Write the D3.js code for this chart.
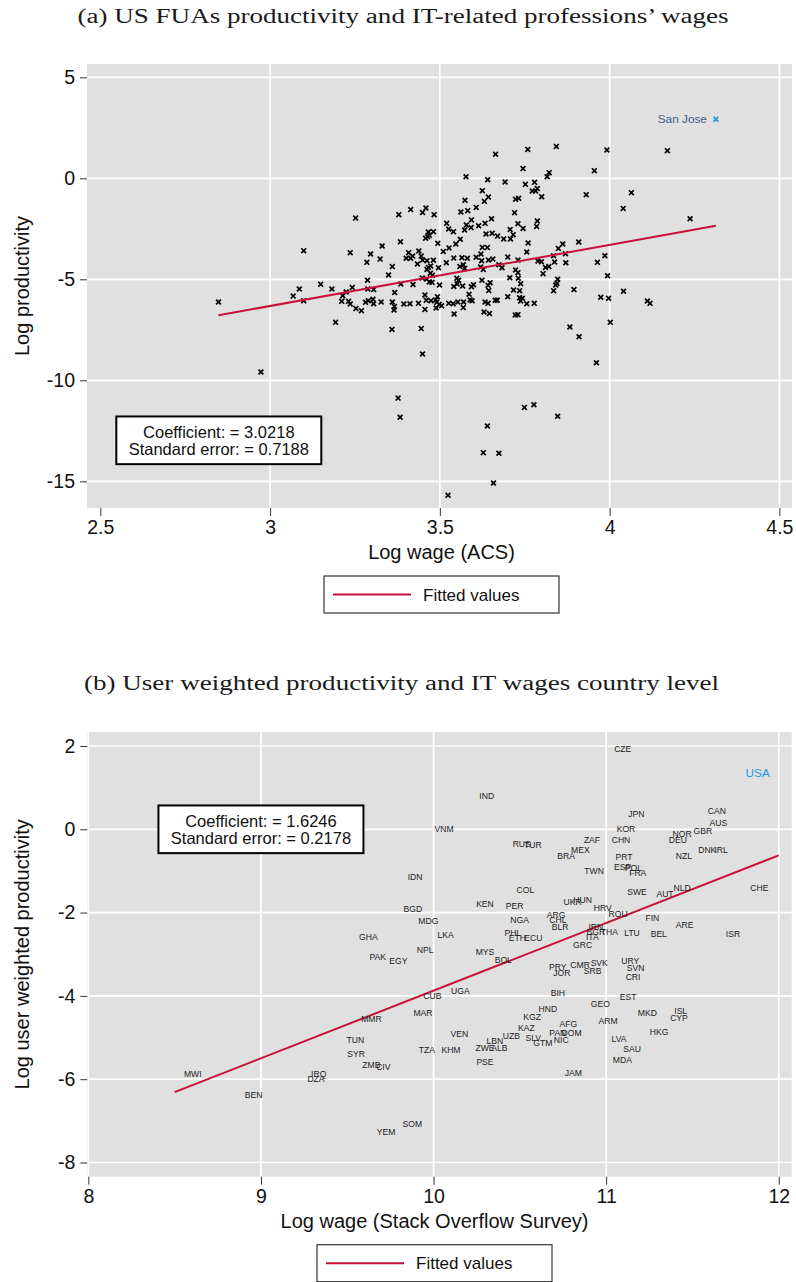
<!DOCTYPE html>
<html>
<head>
<meta charset="utf-8">
<script src="https://cdn.jsdelivr.net/npm/d3@7"></script>
<style>
  body { margin: 0; background: #fff; }
  svg { display: block; font-family: "Liberation Sans", Arial, sans-serif; }
</style>
</head>
<body>
<svg id="chart" width="796" height="1282"></svg>
<script>
// ---------- Panel (a): US functional urban areas ----------
const fuaWage = [
  3.099,3.252,3.379,3.414,3.449,3.459,3.483,3.664,3.759,3.843,
  3.577,3.641,3.692,3.745,3.752,3.779,3.772,3.787,3.782,3.816,
  3.822,3.800,3.625,3.643,3.631,3.574,3.607,3.582,3.562,3.723,
  3.732,3.720,3.520,3.526,3.540,3.578,3.593,3.592,3.573,3.614,
  3.633,3.652,3.730,3.745,3.707,3.716,3.787,3.785,3.636,3.654,
  3.670,3.688,3.708,3.560,3.547,3.527,3.510,3.494,3.466,3.481,
  3.458,3.469,3.464,3.384,3.330,3.236,3.296,3.324,3.285,3.360,
  3.349,3.408,3.401,3.414,3.420,3.438,3.445,3.434,3.449,3.462,
  3.481,3.466,3.462,3.473,3.472,3.496,3.519,3.541,3.565,3.581,
  3.559,3.569,3.573,3.607,3.621,3.625,3.640,3.623,3.620,3.628,
  3.643,3.656,3.674,3.683,3.700,3.730,3.723,3.730,3.756,3.760,
  3.789,3.799,3.804,3.811,3.821,3.835,3.838,3.849,3.862,3.870,
  3.871,3.909,3.448,3.461,3.469,3.478,3.477,3.499,3.421,3.385,
  3.287,3.288,3.305,3.149,3.182,3.086,3.068,3.099,3.214,3.224,
  3.242,3.211,3.231,3.236,3.253,3.269,3.281,3.289,3.303,3.305,
  3.327,3.367,3.360,3.366,3.365,3.394,3.412,3.437,3.456,3.460,
  3.456,3.474,3.488,3.493,3.491,3.498,3.489,3.505,3.526,3.539,
  3.553,3.542,3.569,3.570,3.586,3.589,3.595,3.541,3.551,3.555,
  3.550,3.567,3.593,3.599,3.624,3.642,3.648,3.644,3.633,3.642,
  3.663,3.669,3.630,3.646,3.700,3.717,3.735,3.738,3.731,3.706,
  3.735,3.743,3.738,3.756,3.778,3.722,3.730,3.847,3.845,3.841,
  3.835,3.895,3.193,3.359,3.445,3.883,3.910,
  2.848,2.973,3.377,3.383,3.449,3.994,4.041,3.997,3.974,4.002,
  3.961,4.111,4.119,3.749,3.777,3.847,3.640,3.628,3.674,3.658,
  3.524,4.170,3.992,3.955,3.931,4.064,4.040,4.237,3.986,3.964
];
const fuaProd = [
  -3.58,-1.97,-1.80,-1.55,-1.69,-1.47,-1.80,1.19,1.43,1.58,
  0.08,-0.07,-0.18,0.48,-0.30,-0.20,-0.63,-0.51,-0.63,0.08,
  0.28,-0.91,-0.61,-0.93,-1.14,-1.09,-1.44,-1.60,-1.67,-1.04,
  -0.99,-1.70,-2.23,-2.51,-2.64,-2.31,-2.06,-2.44,-2.56,-2.35,
  -2.23,-2.00,-2.25,-2.48,-2.54,-2.79,-2.11,-2.38,-2.76,-2.72,
  -2.86,-3.00,-3.00,-3.02,-3.25,-3.45,-3.62,-3.22,-2.66,-2.64,
  -2.97,-2.82,-2.89,-3.14,-3.35,-3.68,-3.75,-4.00,-4.16,-4.37,
  -4.79,-3.68,-3.96,-3.96,-3.85,-3.60,-3.85,-4.24,-4.05,-4.08,
  -4.06,-4.41,-4.51,-4.34,-4.70,-4.43,-4.18,-3.95,-3.93,-3.96,
  -4.37,-4.28,-4.46,-3.91,-3.75,-3.42,-3.43,-4.08,-4.39,-4.51,
  -4.05,-4.00,-4.28,-4.43,-3.90,-4.05,-4.54,-4.67,-3.65,-3.20,
  -4.09,-4.13,-4.72,-4.41,-4.37,-3.83,-4.14,-3.47,-3.25,-3.73,
  -4.18,-3.15,-4.94,-4.99,-5.13,-4.80,-5.15,-5.28,-5.26,-5.23,
  -5.05,-5.48,-5.51,-5.25,-5.48,-5.48,-5.83,-6.06,-5.81,-5.63,
  -5.40,-6.09,-6.09,-6.22,-6.45,-6.55,-6.14,-6.06,-5.99,-6.21,
  -6.12,-5.65,-6.12,-6.34,-6.52,-6.22,-6.21,-6.19,-5.78,-6.04,
  -6.49,-6.06,-6.02,-5.86,-6.14,-6.24,-6.42,-6.31,-6.19,-6.21,
  -6.12,-6.72,-6.40,-6.12,-5.74,-6.02,-6.06,-5.35,-5.23,-5.05,
  -4.95,-5.33,-5.37,-5.27,-5.05,-5.30,-5.17,-5.55,-6.12,-6.19,
  -6.04,-6.04,-6.62,-6.69,-5.86,-5.53,-5.56,-5.22,-4.95,-4.92,
  -5.91,-5.94,-6.07,-6.21,-6.19,-6.77,-6.75,-5.00,-5.20,-5.28,
  -5.56,-5.51,-7.13,-7.48,-7.44,-7.36,-7.84,
  -6.12,-9.59,-10.88,-11.83,-8.70,-4.82,-5.59,-5.94,-5.89,-7.13,
  -9.13,-6.07,-6.19,-11.34,-11.21,-11.78,-12.26,-13.58,-13.61,-15.08,
  -15.69,1.37,1.40,0.38,-0.81,-0.71,-1.49,-2.00,-3.83,-4.16
];
const highlightFua = "San Jose";
const highlightFuaWage = 4.313;
const highlightFuaProd = 2.92;
const fitA_slope = 3.0218;
const fitA_se = 0.7188;
const fitA_intercept = -15.385;
const ticksA_x = [2.5, 3, 3.5, 4, 4.5];
const ticksA_y = [5, 0, -5, -10, -15];

// ---------- Panel (b): countries ----------
const countryCodes = [
  "CZE","IND","JPN","CAN","AUS","VNM","KOR","NOR","GBR","DEU",
  "RUS","TUR","ZAF","CHN","MEX","BRA","DNK","IRL","NZL","PRT",
  "ESP","POL","FRA","TWN","COL","SWE","AUT","NLD","CHE","KEN",
  "PER","UKR","HUN","HRV","ROU","FIN","ARE","ISR","NGA","ARG",
  "CHL","BLR","IRN","BGR","THA","ITA","LTU","BEL","GRC","LKA",
  "PHL","ETH","ECU","MYS","BOL","NPL","IDN","BGD","MDG","GHA",
  "PAK","EGY","PRY","JOR","CMR","SVK","SRB","URY","SVN","CRI",
  "CUB","UGA","BIH","EST","GEO","HND","KGZ","MKD","ISL","CYP",
  "ARM","AFG","KAZ","PAN","DOM","NIC","HKG","VEN","UZB","SLV",
  "GTM","LBN","ZWE","ALB","LVA","SAU","MDA","TZA","KHM","PSE",
  "JAM","MAR","MMR","TUN","SYR","ZMB","CIV","IRQ","DZA","MWI",
  "BEN","YEM","SOM"
];
const countryWage = [
  11.096,10.308,11.175,11.641,11.650,10.061,11.115,11.440,11.560,11.415,
  10.511,10.575,10.918,11.086,10.851,10.768,11.586,11.666,11.450,11.104,
  11.096,11.158,11.183,10.930,10.532,11.179,11.341,11.440,11.888,10.298,
  10.470,10.806,10.864,10.980,11.069,11.268,11.455,11.735,10.499,10.710,
  10.720,10.733,10.940,10.940,11.019,10.920,11.150,11.305,10.864,10.070,
  10.459,10.486,10.578,10.298,10.404,9.951,9.893,9.880,9.970,9.622,
  9.677,9.796,10.720,10.743,10.849,10.960,10.922,11.140,11.171,11.156,
  9.993,10.155,10.720,11.127,10.966,10.662,10.571,11.239,11.432,11.422,
  11.011,10.781,10.538,10.720,10.800,10.740,11.307,10.149,10.451,10.578,
  10.633,10.355,10.298,10.381,11.075,11.150,11.094,9.961,10.101,10.298,
  10.810,9.939,9.640,9.547,9.551,9.640,9.709,9.335,9.319,8.605,
  8.958,9.725,9.877
];
const countryProd = [
  1.928,0.807,0.375,0.447,0.159,0.007,0.015,-0.105,-0.033,-0.250,
  -0.345,-0.370,-0.257,-0.257,-0.497,-0.634,-0.497,-0.497,-0.634,-0.657,
  -0.897,-0.920,-1.040,-0.993,-1.450,-1.498,-1.553,-1.400,-1.400,-1.794,
  -1.834,-1.738,-1.690,-1.882,-2.034,-2.120,-2.290,-2.510,-2.170,-2.050,
  -2.180,-2.340,-2.346,-2.466,-2.466,-2.593,-2.483,-2.507,-2.778,-2.538,
  -2.483,-2.603,-2.603,-2.940,-3.140,-2.898,-1.145,-1.920,-2.190,-2.578,
  -3.059,-3.162,-3.313,-3.443,-3.258,-3.200,-3.395,-3.170,-3.330,-3.539,
  -3.995,-3.875,-3.940,-4.020,-4.187,-4.307,-4.500,-4.403,-4.355,-4.523,
  -4.595,-4.667,-4.763,-4.898,-4.883,-5.059,-4.860,-4.915,-4.963,-5.003,
  -5.123,-5.083,-5.244,-5.244,-5.027,-5.267,-5.532,-5.306,-5.306,-5.580,
  -5.844,-4.418,-4.547,-5.066,-5.387,-5.651,-5.715,-5.883,-5.988,-5.875,
  -6.380,-7.260,-7.069
];
const highlightCountry = "USA";
const highlightCountryWage = 11.878;
const highlightCountryProd = 1.36;
const fitB_slope = 1.6246;
const fitB_se = 0.2178;
const fitB_intercept = -20.12;
const fitB_range = [8.5, 12];
const ticksB_x = [8, 9, 10, 11, 12];
const ticksB_y = [2, 0, -2, -4, -6, -8];

// ---------- Drawing ----------
const svg = d3.select("#chart");
const FIT_COLOR = "#c8103a";
const HILITE = "#1f9ad6";
const plainNumber = d => String(d);   // keeps the ASCII hyphen for negatives

function makeScales(p) {
  return {
    x: d3.scaleLinear().domain(p.xDom).range([p.left, p.right]),
    y: d3.scaleLinear().domain(p.yDom).range([p.bottom, p.top])
  };
}

function drawFrame(p, s, xt, yt, xGrid, xTitle, yTitle, legendCx) {
  const g = svg.append("g");
  g.append("rect")
    .attr("x", p.left).attr("y", p.top)
    .attr("width", p.right - p.left).attr("height", p.bottom - p.top)
    .attr("fill", "#e0e0e0");

  g.selectAll(".hg").data(yt).join("line")
    .attr("x1", p.left).attr("x2", p.right)
    .attr("y1", d => s.y(d)).attr("y2", d => s.y(d))
    .attr("stroke", "#fff").attr("stroke-width", 1.7);
  g.selectAll(".vg").data(xGrid).join("line")
    .attr("y1", p.top).attr("y2", p.bottom)
    .attr("x1", d => s.x(d)).attr("x2", d => s.x(d))
    .attr("stroke", "#fff").attr("stroke-width", 1.7);

  const xa = g.append("g").attr("transform", `translate(0,${p.bottom})`)
    .call(d3.axisBottom(s.x).tickValues(xt).tickSize(8).tickPadding(4).tickFormat(plainNumber));
  const ya = g.append("g").attr("transform", `translate(${p.left},0)`)
    .call(d3.axisLeft(s.y).tickValues(yt).tickSize(7).tickPadding(5).tickFormat(plainNumber));
  [xa, ya].forEach(a => {
    a.select(".domain").remove();
    a.selectAll(".tick line").attr("stroke", "#333").attr("stroke-width", 1);
    a.selectAll(".tick text").attr("fill", "#111")
      .style("font-family", '"Liberation Sans", Arial, sans-serif')
      .style("font-size", "19.5px");
  });

  g.append("text")
    .attr("x", legendCx).attr("y", p.bottom + 51)
    .attr("text-anchor", "middle")
    .style("font-size", "20px").attr("fill", "#111")
    .text(xTitle);
  g.append("text")
    .attr("transform", `translate(29,${(p.top + p.bottom) / 2}) rotate(-90)`)
    .attr("text-anchor", "middle")
    .style("font-size", "20px").attr("fill", "#111")
    .text(yTitle);

  // legend
  const lw = 235, lh = 37, lx = legendCx - lw / 2, ly = p.bottom + 68;
  g.append("rect").attr("x", lx).attr("y", ly).attr("width", lw).attr("height", lh)
    .attr("fill", "#fff").attr("stroke", "#333").attr("stroke-width", 1.2);
  g.append("line").attr("x1", lx + 9).attr("x2", lx + 87)
    .attr("y1", ly + lh / 2).attr("y2", ly + lh / 2)
    .attr("stroke", FIT_COLOR).attr("stroke-width", 2);
  g.append("text").attr("x", lx + 99).attr("y", ly + lh / 2 + 6)
    .style("font-size", "17px").attr("fill", "#111").text("Fitted values");
  return g;
}

function statBox(cx, cy, slope, se) {
  const w = 205, h = 47.7;
  svg.append("rect").attr("x", cx - w / 2).attr("y", cy - h / 2)
    .attr("width", w).attr("height", h)
    .attr("fill", "#fff").attr("stroke", "#000").attr("stroke-width", 2);
  const t = svg.append("text").attr("text-anchor", "middle")
    .style("font-size", "16.5px").attr("fill", "#111");
  t.append("tspan").attr("x", cx).attr("y", cy - 2.6).text(`Coefficient: = ${slope.toFixed(4)}`);
  t.append("tspan").attr("x", cx).attr("y", cy + 14.6).text(`Standard error: = ${se.toFixed(4)}`);
}

function xMark(sel, color) {
  sel.attr("d", "M-2.4,-2.4L2.4,2.4M-2.4,2.4L2.4,-2.4")
    .attr("stroke", color).attr("stroke-width", 1.7).attr("fill", "none");
}

// Titles
svg.append("text").attr("x", 403).attr("y", 23).attr("text-anchor", "middle")
  .attr("textLength", 651).attr("lengthAdjust", "spacingAndGlyphs")
  .style("font-family", '"Liberation Serif", "DejaVu Serif", serif').style("font-size", "20.5px")
  .attr("fill", "#1a1a1a")
  .text("(a) US FUAs productivity and IT-related professions\u2019 wages");
svg.append("text").attr("x", 401.5).attr("y", 690).attr("text-anchor", "middle")
  .attr("textLength", 635).attr("lengthAdjust", "spacingAndGlyphs")
  .style("font-family", '"Liberation Serif", "DejaVu Serif", serif').style("font-size", "20.5px")
  .attr("fill", "#1a1a1a")
  .text("(b) User weighted productivity and IT wages country level");

// Panel (a)
const pA = { left: 87, right: 792, top: 64, bottom: 508, xDom: [2.4608, 4.5371], yDom: [-16.32, 5.658] };
const sA = makeScales(pA);
drawFrame(pA, sA, ticksA_x, ticksA_y, ticksA_x.slice(1), "Log wage (ACS)", "Log productivity", 441.5);

const ptsA = fuaWage.map((w, i) => ({ w, p: fuaProd[i] }));
const gA = svg.append("g");
gA.selectAll("path").data(ptsA).join("path")
  .attr("transform", d => `translate(${sA.x(d.w)},${sA.y(d.p)})`)
  .call(xMark, "#000");

const extA = d3.extent(fuaWage.concat([highlightFuaWage]));
svg.append("path")
  .datum(extA)
  .attr("d", d3.line().x(d => sA.x(d)).y(d => sA.y(fitA_intercept + fitA_slope * d)))
  .attr("stroke", FIT_COLOR).attr("stroke-width", 2).attr("fill", "none");

svg.append("path")
  .attr("transform", `translate(${sA.x(highlightFuaWage)},${sA.y(highlightFuaProd)})`)
  .call(xMark, HILITE);
svg.append("text")
  .attr("x", sA.x(highlightFuaWage) - 9).attr("y", sA.y(highlightFuaProd))
  .attr("dy", "0.35em").attr("text-anchor", "end")
  .style("font-size", "11.8px").attr("fill", "#3d5f82")
  .text(highlightFua);

statBox(sA.x(2.849), sA.y(-12.97), fitA_slope, fitA_se);

// Panel (b)
const pB = { left: 87.3, right: 791.7, top: 732, bottom: 1176.7, xDom: [7.994, 12.075], yDom: [-8.341, 2.336] };
const sB = makeScales(pB);
drawFrame(pB, sB, ticksB_x, ticksB_y, ticksB_x, "Log wage (Stack Overflow Survey)", "Log user weighted productivity", 434.5);

svg.append("path")
  .datum(fitB_range)
  .attr("d", d3.line().x(d => sB.x(d)).y(d => sB.y(fitB_intercept + fitB_slope * d)))
  .attr("stroke", FIT_COLOR).attr("stroke-width", 2).attr("fill", "none");

const ptsB = countryCodes.map((c, i) => ({ c, w: countryWage[i], p: countryProd[i] }));
svg.append("g").selectAll("text").data(ptsB).join("text")
  .attr("x", d => sB.x(d.w)).attr("y", d => sB.y(d.p))
  .attr("dy", "0.36em").attr("text-anchor", "middle")
  .style("font-size", "8.6px").attr("fill", "#222")
  .text(d => d.c);
svg.append("text")
  .attr("x", sB.x(highlightCountryWage)).attr("y", sB.y(highlightCountryProd))
  .attr("dy", "0.36em").attr("text-anchor", "middle")
  .style("font-size", "11.8px").attr("fill", HILITE)
  .text(highlightCountry);

statBox(sB.x(9.0), sB.y(0.0), fitB_slope, fitB_se);
</script>
</body>
</html>
